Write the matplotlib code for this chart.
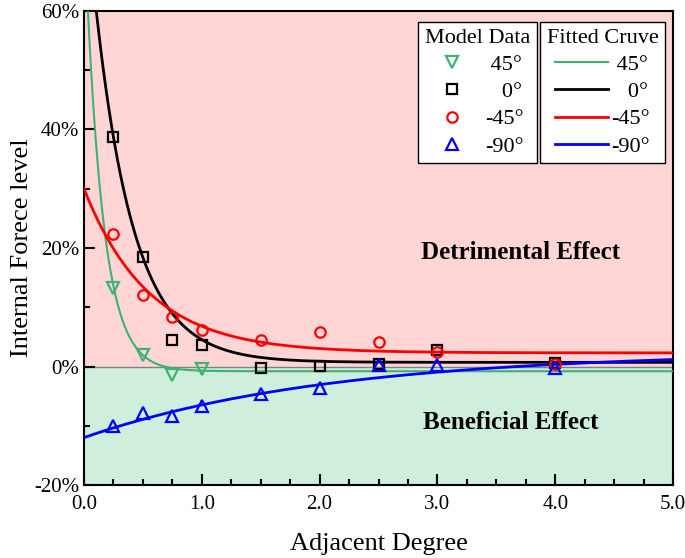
import matplotlib
matplotlib.use("Agg")
import matplotlib.pyplot as plt
import numpy as np
from matplotlib.lines import Line2D
from matplotlib.ticker import MultipleLocator, FuncFormatter

plt.rcParams['font.family'] = ['Liberation Serif', 'DejaVu Serif']

# measured model data (internal force level, %)
labels = ['45°', '0°', '-45°', '-90°']
x_45 = [0.25, 0.5, 0.75, 1.0]
y_45 = [13.3, 1.9, -1.5, -0.5]
x_0 = [0.25, 0.5, 0.75, 1.0, 1.5, 2.0, 2.5, 3.0, 4.0]
y_0 = [38.7, 18.4, 4.4, 3.7, -0.2, 0.1, 0.5, 2.8, 0.6]
x_m45 = [0.25, 0.5, 0.75, 1.0, 1.5, 2.0, 2.5, 3.0, 4.0]
y_m45 = [22.4, 12.0, 8.4, 6.1, 4.4, 5.9, 4.2, 2.5, 0.5]
x_m90 = [0.25, 0.5, 0.75, 1.0, 1.5, 2.0, 2.5, 3.0, 4.0]
y_m90 = [-10.1, -7.8, -8.4, -6.6, -4.7, -3.7, 0.2, 0.2, -0.2]

# fitted curve parameters  y = y0 + A*exp(-x/t)
fit_y0 = [-0.8, 0.7, 2.3, 2.5]
fit_A = [76.0, 81.6, 27.7, -14.5]
fit_t = [0.15, 0.327, 0.55, 2.09]

colors = ['#3CB371', 'black', 'red', 'blue']
markers = ['v', 's', 'o', '^']
msizes = [8, 7, 7.5, 8]

fig, ax = plt.subplots(figsize=(6.85, 5.58), dpi=100)
fig.subplots_adjust(left=84/685, right=673/685, top=1-11/558, bottom=1-485/558)

ax.set_xlim(0, 5)
ax.set_ylim(-20, 60)
ax.axhspan(0, 60, color='#FFD5D5', zorder=0)
ax.axhspan(-20, 0, color='#CFEEDC', zorder=0)
ax.axhline(0, color='gray', lw=1, zorder=1)

xs = [x_45, x_0, x_m45, x_m90]
ys = [y_45, y_0, y_m45, y_m90]
for i in range(4):
    ax.plot(xs[i], ys[i], ls='none', marker=markers[i], mfc='none', mec=colors[i],
            ms=msizes[i], mew=1.6, zorder=4)

xx = np.linspace(0, 5, 400)
for i in range(4):
    lw = 1.5 if i == 0 else 2
    ax.plot(xx, fit_y0[i] + fit_A[i] * np.exp(-xx / fit_t[i]), color=colors[i], lw=lw, zorder=3)

ax.text(3.71, 19.2, 'Detrimental Effect', fontsize=18, fontweight='bold', ha='center', va='center')
ax.text(3.62, -9.5, 'Beneficial Effect', fontsize=18, fontweight='bold', ha='center', va='center')

ax.xaxis.set_major_locator(MultipleLocator(1.0))
ax.xaxis.set_minor_locator(MultipleLocator(0.25))
ax.yaxis.set_major_locator(MultipleLocator(20))
ax.yaxis.set_minor_locator(MultipleLocator(10))
ax.xaxis.set_major_formatter(FuncFormatter(lambda v, p: f'{v:.1f}'))
ax.yaxis.set_major_formatter(FuncFormatter(lambda v, p: f'{v:.0f}%'))
ax.tick_params(which='both', direction='in', top=False, right=False, width=1.5, labelsize=15)
ax.tick_params(which='major', length=8)
ax.tick_params(which='minor', length=4)
ax.tick_params(axis='x', pad=7)
for s in ax.spines.values():
    s.set_linewidth(1.5)

ax.set_xlabel('Adjacent Degree', fontsize=19, labelpad=14)
ax.set_ylabel('Internal Forece level', fontsize=19, labelpad=1)

pad_labels = [' 45°', '   0°', '-45°', '-90°']
h1 = [Line2D([], [], ls='none', marker=markers[i], mfc='none', mec=colors[i], ms=msizes[i], mew=1.6)
      for i in range(4)]
h2 = [Line2D([], [], color=colors[i], lw=1.5 if i == 0 else 2) for i in range(4)]

leg1 = ax.legend(h1, pad_labels, title='Model Data', loc='upper left',
                 bbox_to_anchor=(334/589, 463/474), borderaxespad=0, fontsize=16,
                 title_fontsize=16, handlelength=1.9, handletextpad=0.5, labelspacing=0.3,
                 fancybox=False, edgecolor='black', framealpha=1, borderpad=0.3)
leg1.get_frame().set_linewidth(1)
ax.add_artist(leg1)
leg2 = ax.legend(h2, pad_labels, title='Fitted Cruve', loc='upper right',
                 bbox_to_anchor=(581/589, 463/474), borderaxespad=0, fontsize=16,
                 title_fontsize=16, handlelength=2.4, handletextpad=0.15, labelspacing=0.3,
                 fancybox=False, edgecolor='black', framealpha=1, borderpad=0.3)
leg2.get_frame().set_linewidth(1)

fig.savefig('out.png', dpi=100)
